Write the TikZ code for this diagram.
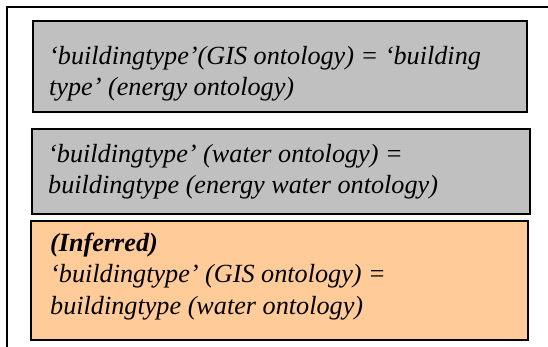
\documentclass[tikz,border=0pt]{standalone}
\usepackage{fontspec}
\setmainfont{Liberation Serif}
\definecolor{boxgray}{HTML}{C0C0C0}
\definecolor{boxtan}{HTML}{FFCC99}
\begin{document}
\begin{tikzpicture}[x=1pt,y=-1pt,
  frameline/.style={line width=2pt,black},
  stmt/.style={draw=black,line width=1.8pt},
  stmttext/.style={anchor=base west,inner sep=0pt,align=left,
    font=\fontsize{26.2}{31.5}\selectfont\itshape}]
  \useasboundingbox (0,0) rectangle (548,347);
  % outer frame: only its top and left edges lie inside the page
  \draw[frameline] (6.5,347) -- (6.5,7.5) -- (548,7.5);
  % statement boxes
  \path[stmt,fill=boxgray] (33,21) rectangle (527,112);
  \path[stmt,fill=boxgray] (32,129) rectangle (530,214);
  \path[stmt,fill=boxtan]  (31,221) rectangle (528,340);
  % texts, placed by the baseline of their last line
  \node[stmttext] (t1) at (49,96) {‘buildingtype’(GIS ontology) = ‘building\\type’ (energy ontology)};
  \node[stmttext] (t2) at (48,194) {‘buildingtype’ (water ontology) =\\buildingtype (energy water ontology)};
  \node[stmttext] (t3) at (50,314) {\textbf{(Inferred)}\\‘buildingtype’ (GIS ontology) =\\buildingtype (water ontology)};
\end{tikzpicture}
\end{document}
